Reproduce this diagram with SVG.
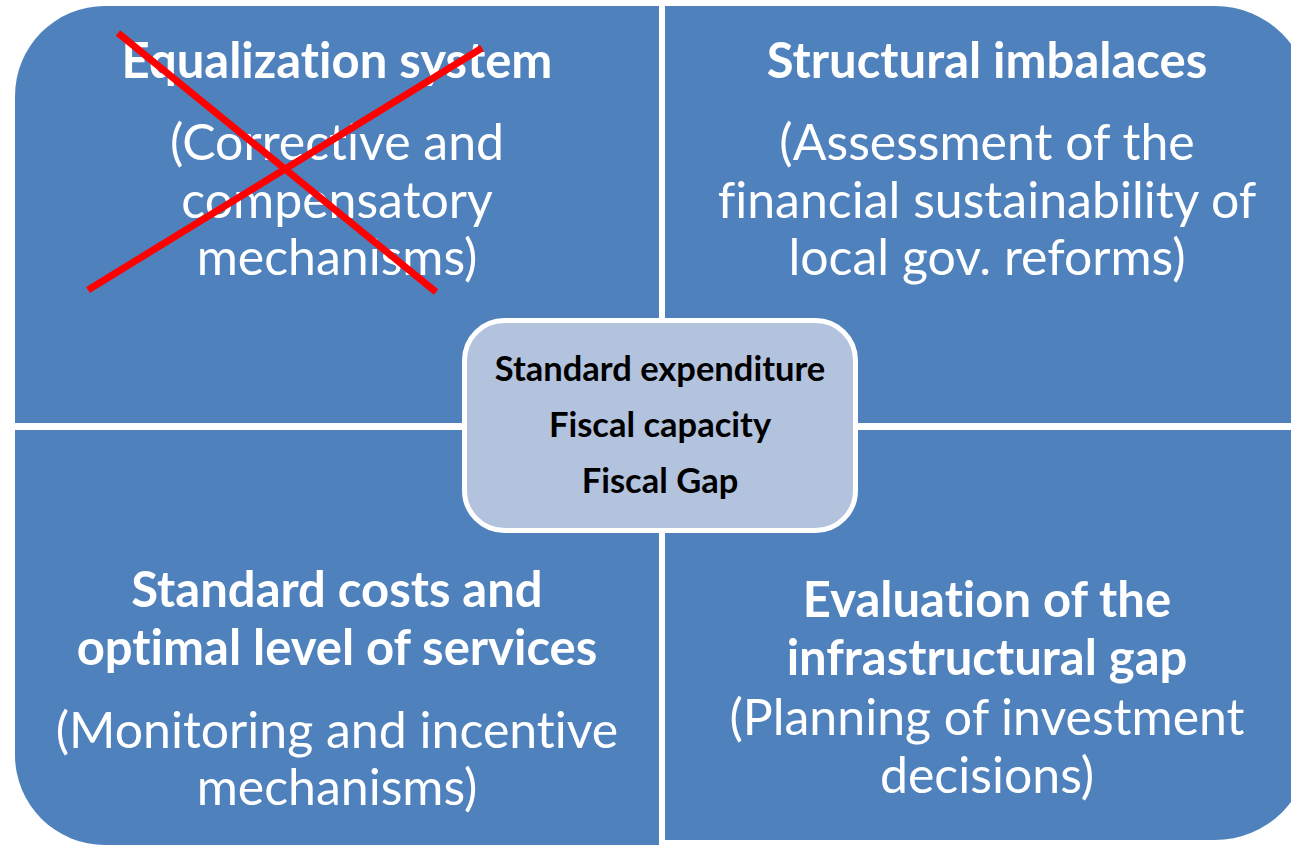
<svg xmlns="http://www.w3.org/2000/svg" width="1291" height="845" viewBox="0 0 1291 845">
<style>
.q{fill:#4F81BD}
.t{font-family:Lato,"Liberation Sans",sans-serif;fill:#fff;text-anchor:middle;font-variant-ligatures:none}
.b{font-weight:bold;font-size:49px}
.r{font-size:50px}
.c{font-family:Lato,"Liberation Sans",sans-serif;font-weight:bold;font-size:34.5px;fill:#000;text-anchor:middle;font-variant-ligatures:none}
.x{stroke:#FF0000;stroke-width:7;stroke-linecap:butt}
</style>
<rect width="1291" height="845" fill="#fff"/>
<g id="q-tl">
<path class="q" d="M15,423 L15,96 A90,90 0 0 1 105,6 L659,6 L659,423 Z"/>
<text class="t b" x="337" y="78">Equalization system</text>
<text class="t r" x="337" y="160">(Corrective and</text>
<text class="t r" x="337" y="218">compensatory</text>
<text class="t r" x="337" y="275">mechanisms)</text>
</g>
<g id="q-tr">
<path class="q" d="M665,6 L1215,6 A95,95 0 0 1 1310,101 L1310,423 L665,423 Z"/>
<text class="t b" x="987" y="78">Structural imbalaces</text>
<text class="t r" x="987" y="160">(Assessment of the</text>
<text class="t r" x="987" y="218">financial sustainability of</text>
<text class="t r" x="987" y="275">local gov. reforms)</text>
</g>
<g id="q-bl">
<path class="q" d="M15,430 L659,430 L659,845 L105,845 A90,90 0 0 1 15,755 Z"/>
<text class="t b" x="337" y="607">Standard costs and</text>
<text class="t b" x="337" y="665">optimal level of services</text>
<text class="t r" x="337" y="748">(Monitoring and incentive</text>
<text class="t r" x="337" y="805">mechanisms)</text>
</g>
<g id="q-br">
<path class="q" d="M665,430 L1310,430 L1310,745 A95,95 0 0 1 1215,840 L665,840 Z"/>
<text class="t b" x="987" y="617">Evaluation of the</text>
<text class="t b" x="987" y="675">infrastructural gap</text>
<text class="t r" x="987" y="735">(Planning of investment</text>
<text class="t r" x="987" y="793">decisions)</text>
</g>
<g id="center">
<rect x="464.5" y="320.5" width="391" height="210" rx="40" fill="#B3C3DE" stroke="#fff" stroke-width="5"/>
<text class="c" x="660" y="381">Standard expenditure</text>
<text class="c" x="660" y="437">Fiscal capacity</text>
<text class="c" x="660" y="493">Fiscal Gap</text>
</g>
<g id="connectors">
<line class="x" x1="118" y1="33" x2="436" y2="292"/>
<line class="x" x1="88" y1="290" x2="482" y2="48"/>
</g>
</svg>
